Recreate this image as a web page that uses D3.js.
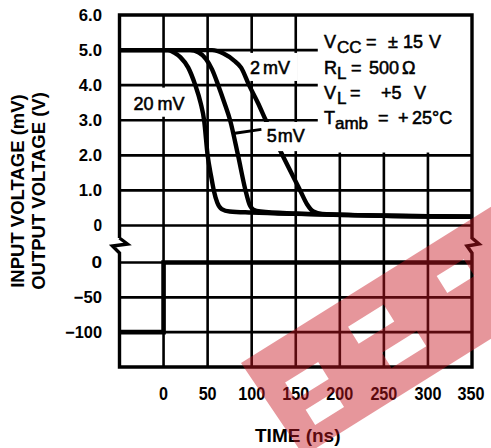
<!DOCTYPE html>
<html>
<head>
<meta charset="utf-8">
<script src="https://cdn.jsdelivr.net/npm/d3@7"></script>
<style>
  body { margin: 0; background: #fff; }
  svg { display: block; }
  .num { font-family: "Liberation Sans", Arial, sans-serif; font-weight: bold; }
  .note { font-family: "Liberation Sans", Arial, sans-serif; stroke: #000; stroke-width: 0.55; }
  .title { font-family: "Liberation Sans", Arial, sans-serif; font-weight: bold; }
</style>
</head>
<body>
<svg width="491" height="448"></svg>
<script>
// tick values and labels
var timeTicks = [0, 50, 100, 150, 200, 250, 300, 350];
var outTicks = [0, 1, 2, 3, 4, 5, 6];
var outLabels = ["0", "1.0", "2.0", "3.0", "4.0", "5.0", "6.0"];
var inTicks = [0, -50, -100];
var inLabels = ["0", "\u221250", "\u2212100"];

// input step (time ns, mV)
var inputTime = [-50, 0, 0, 350];
var inputMv = [-100, -100, 0, 0];

// output voltage responses [time ns, volts]
var curve20mV = [[-50, 5], [5, 5], [12, 4.93], [19, 4.8], [28, 4.5], [36, 4.0], [42, 3.5], [46, 3.0],
  [50, 2.0], [54, 1.4], [57, 1.0], [61, 0.65], [66, 0.47], [75, 0.4], [100, 0.37], [150, 0.33], [250, 0.28], [350, 0.25]];
var curve5mV = [[-50, 5], [30, 5], [40, 4.93], [48, 4.75], [55, 4.45], [62, 4.0], [69, 3.5], [75.5, 3.0],
  [84.5, 2.0], [93, 1.0], [97.5, 0.6], [102, 0.45], [110, 0.4], [150, 0.34], [250, 0.28], [350, 0.25]];
var curve2mV = [[-50, 5], [55, 5], [68, 4.9], [80, 4.7], [88, 4.5], [97, 4.0], [107, 3.5], [116, 3.0],
  [135, 2.0], [155, 1.0], [163, 0.6], [170, 0.4], [180, 0.33], [250, 0.28], [350, 0.25]];

var svg = d3.select("svg");

var x = d3.scaleLinear().domain([-50, 350]).range([119.5, 472]);
var yOut = d3.scaleLinear().domain([0, 6]).range([225.5, 15]);
var yIn = d3.scaleLinear().domain([-150, 0]).range([367, 262.5]);

var yTop = yOut(6), yBot = yIn(-150);
var xL = x(-50), xR = x(350);
var yBreak = (yOut(0) + yIn(0)) / 2 + 1;

// grid
var grid = svg.append("g").attr("stroke", "#000").attr("stroke-width", 2.6);
grid.selectAll(".vg").data(timeTicks.slice(0, -1)).enter().append("line")
  .attr("x1", function(d) { return x(d); }).attr("x2", function(d) { return x(d); })
  .attr("y1", yTop).attr("y2", yBot);
grid.selectAll(".hg").data(outTicks.slice(0, -1)).enter().append("line")
  .attr("x1", xL).attr("x2", xR)
  .attr("y1", function(d) { return yOut(d); }).attr("y2", function(d) { return yOut(d); });
grid.selectAll(".hi").data(inTicks).enter().append("line")
  .attr("x1", xL).attr("x2", xR)
  .attr("y1", function(d) { return yIn(d); }).attr("y2", function(d) { return yIn(d); });

// white label backgrounds
function box(t0, t1, v0, v1) {
  svg.append("rect")
    .attr("x", x(t0)).attr("y", yOut(v1))
    .attr("width", x(t1) - x(t0)).attr("height", yOut(v0) - yOut(v1))
    .attr("fill", "#fff");
}
box(175, 350, 2.08, 6);
box(96, 152, 4.12, 4.92);
box(-43, 30, 3.1, 3.93);

// curves
var line = d3.line()
  .x(function(d) { return x(d[0]); })
  .y(function(d) { return yOut(d[1]); })
  .curve(d3.curveMonotoneX);

[curve20mV, curve5mV, curve2mV].forEach(function(c) {
  svg.append("path").attr("d", line(c))
    .attr("fill", "none").attr("stroke", "#000").attr("stroke-width", 4.4)
    .attr("stroke-linejoin", "round");
});

var inLine = d3.line()
  .x(function(d, i) { return x(inputTime[i]); })
  .y(function(d, i) { return yIn(inputMv[i]); });
svg.append("path").attr("d", inLine(inputTime))
  .attr("fill", "none").attr("stroke", "#000").attr("stroke-width", 4.6);

// 5 mV label sits over the 2 mV curve
box(112, 170, 2.12, 2.95);
svg.append("line")
  .attr("x1", x(79)).attr("y1", yOut(2.62))
  .attr("x2", x(111)).attr("y2", yOut(2.74))
  .attr("stroke", "#000").attr("stroke-width", 3);

// frame with break marks
var frame = d3.path();
frame.moveTo(xL, yBreak - 7);
frame.lineTo(xL, yTop); frame.lineTo(xR, yTop); frame.lineTo(xR, yBreak - 7);
frame.lineTo(xR + 7, yBreak - 1); frame.lineTo(xR - 5, yBreak + 1); frame.lineTo(xR, yBreak + 8);
frame.lineTo(xR, yBot); frame.lineTo(xL, yBot); frame.lineTo(xL, yBreak + 8);
frame.lineTo(xL - 7, yBreak + 1); frame.lineTo(xL + 8, yBreak - 1); frame.lineTo(xL, yBreak - 7);
svg.append("path").attr("d", frame.toString())
  .attr("fill", "none").attr("stroke", "#000").attr("stroke-width", 3.4).attr("stroke-linejoin", "miter");

// tick labels, squeezed like the condensed face of the original
function labelWidth(s) {
  var w = 0;
  for (var i = 0; i < s.length; i++) w += s[i] === "." ? 6 : (s[i] === "\u2212" ? 9 : 8.6);
  return w;
}
svg.selectAll(".yl").data(outTicks).enter().append("text")
  .attr("class", "num").attr("x", 102).attr("y", function(d) { return yOut(d); })
  .attr("dy", "0.36em").attr("text-anchor", "end").attr("font-size", 16.5)
  .attr("textLength", function(d, i) { return labelWidth(outLabels[i]); })
  .attr("lengthAdjust", "spacingAndGlyphs")
  .text(function(d, i) { return outLabels[i]; });
svg.selectAll(".il").data(inTicks).enter().append("text")
  .attr("class", "num").attr("x", 102).attr("y", function(d) { return yIn(d); })
  .attr("dy", "0.36em").attr("text-anchor", "end").attr("font-size", 16.5)
  .attr("textLength", function(d, i) { return labelWidth(inLabels[i]) + 2; })
  .attr("lengthAdjust", "spacingAndGlyphs")
  .text(function(d, i) { return inLabels[i]; });
svg.selectAll(".xl").data(timeTicks).enter().append("text")
  .attr("class", "num").attr("x", function(d) { return x(d) + (d === 350 ? -1 : 0); }).attr("y", 393)
  .attr("dy", "0.36em").attr("text-anchor", "middle").attr("font-size", 19)
  .attr("textLength", function(d) { return String(d).length * 9; })
  .attr("lengthAdjust", "spacingAndGlyphs")
  .text(function(d) { return d; });

// axis titles
svg.append("text").attr("class", "title").attr("font-size", 19)
  .attr("x", (x(-50) + x(350)) / 2 + 2).attr("y", 442).attr("text-anchor", "middle")
  .text("TIME (ns)");
svg.append("text").attr("class", "title").attr("font-size", 18.5)
  .attr("transform", "translate(24,191) rotate(-90)").attr("text-anchor", "middle")
  .text("INPUT VOLTAGE (mV)");
svg.append("text").attr("class", "title").attr("font-size", 18.5)
  .attr("transform", "translate(45,191) rotate(-90)").attr("text-anchor", "middle")
  .text("OUTPUT VOLTAGE (V)");

// curve labels
function note(px, py, parts) {
  var t = svg.append("text").attr("class", "note").attr("font-size", 18);
  parts.forEach(function(p) {
    t.append("tspan").attr("x", px + p[1]).attr("y", py + (p[2] ? 5 : 0))
      .attr("font-size", p[2] ? 17 : 18).text(p[0]);
  });
}
note(x(-34), 110, [["20", 0], ["mV", 24]]);
note(x(98), 74, [["2", 0], ["mV", 13]]);
note(x(117), 142, [["5", 0], ["mV", 11]]);

// conditions
var px = x(182);
note(px, 47.5, [["V", 0], ["CC", 13, true], ["=", 42], ["\u00b1", 64], ["15", 79], ["V", 105]]);
note(px, 74, [["R", 0], ["L", 13, true], ["=", 27], ["500", 45], ["\u03a9", 78]]);
note(px, 99, [["V", 0], ["L", 13, true], ["=", 26], ["+5", 57], ["V", 90]]);
note(px, 124, [["T", 0], ["amb", 11, true], ["=", 54], ["+", 74], ["25\u00b0C", 88]]);

// watermark
var wm = d3.path();
wm.moveTo(0, 0); wm.lineTo(340, 0); wm.lineTo(340, 112); wm.lineTo(4, 112); wm.closePath();
[[27, 66, 40, 60], [30, 64, 74, 92], [110, 152, 26, 46], [125, 166, 66, 84], [212, 244, 30, 50]].forEach(function(h) {
  wm.moveTo(h[0], h[2]); wm.lineTo(h[1], h[2]); wm.lineTo(h[1], h[3]); wm.lineTo(h[0], h[3]); wm.closePath();
});
svg.append("path").attr("d", wm.toString())
  .attr("transform", "translate(241,363) rotate(-32)")
  .attr("fill", "rgb(200,22,33)").attr("fill-opacity", 0.45).attr("fill-rule", "evenodd");
</script>
</body>
</html>
